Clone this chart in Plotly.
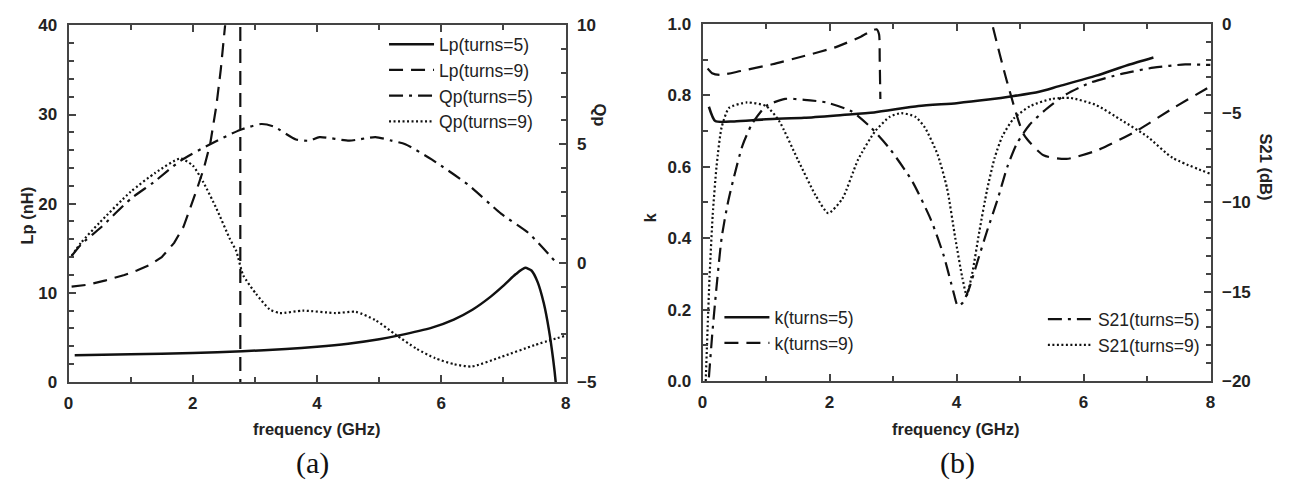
import plotly.graph_objects as go

# ---------------- data: panel (a) ----------------
lp5_f = [0.1, 1.0, 2.0, 2.8, 3.5, 4.0, 4.5, 5.0, 5.3, 5.85, 6.2, 6.5, 6.8, 7.0, 7.2, 7.35, 7.45, 7.55, 7.65, 7.73, 7.8, 7.84, 7.86]
lp5_v = [3.0, 3.1, 3.25, 3.45, 3.7, 3.95, 4.3, 4.8, 5.2, 6.1, 7.0, 8.1, 9.6, 10.8, 12.1, 12.8, 12.5, 11.2, 8.8, 5.9, 2.5, 0.0, -2.0]

lp9_f = [0.05, 0.3, 0.6, 0.9, 1.1, 1.3, 1.5, 1.7, 1.85, 1.95, 2.07, 2.18, 2.28, 2.38, 2.45, 2.52, 2.6, 2.68, 2.72, 2.76, 2.77, 2.8]
lp9_v = [10.7, 10.9, 11.4, 12.0, 12.5, 13.1, 14.0, 15.6, 17.4, 19.3, 21.7, 24.0, 26.7, 31.0, 35.0, 40.0, 55.0, 100.0, 200.0, 1000.0, -1000.0, -800.0]

qp5_f = [0.05, 0.2, 0.52, 1.0, 1.37, 1.8, 2.28, 2.76, 3.1, 3.3, 3.66, 3.88, 4.04, 4.52, 4.94, 5.2, 5.42, 5.85, 6.43, 6.96, 7.4, 7.77, 7.87]
qp5_v = [0.3, 0.78, 1.5, 2.7, 3.4, 4.3, 5.0, 5.6, 5.85, 5.75, 5.2, 5.15, 5.3, 5.15, 5.3, 5.15, 5.0, 4.35, 3.3, 2.08, 1.27, 0.25, -0.05]

qp9_f = [0.05, 0.2, 0.5, 1.0, 1.4, 1.8, 2.0, 2.17, 2.38, 2.6, 2.7, 2.81, 3.02, 3.24, 3.4, 3.77, 4.3, 4.62, 4.94, 5.26, 5.6, 5.9, 6.2, 6.49, 6.96, 7.5, 8.0]
qp9_v = [0.3, 0.85, 1.7, 3.0, 3.8, 4.4, 4.1, 3.4, 2.3, 1.0, 0.5, -0.5, -1.3, -1.95, -2.1, -2.0, -2.1, -2.05, -2.4, -3.0, -3.6, -4.0, -4.25, -4.35, -3.95, -3.45, -3.05]

# ---------------- data: panel (b) ----------------
k5_f = [0.1, 0.2, 0.5, 1.0, 1.6, 2.2, 2.7, 3.4, 4.0, 4.5, 4.9, 5.3, 5.6, 6.2, 6.7, 7.1]
k5_v = [0.768, 0.728, 0.727, 0.733, 0.737, 0.745, 0.752, 0.77, 0.778, 0.788, 0.798, 0.81, 0.825, 0.855, 0.885, 0.906]

k9_f = [0.08, 0.15, 0.27, 0.6, 1.1, 1.6, 2.1, 2.5, 2.68, 2.74, 2.78, 2.79, 2.8, None, 4.5, 4.56, 4.8, 5.06, 5.37, 5.73, 6.2, 6.83, 7.4, 7.92, 8.0]
k9_v = [0.875, 0.862, 0.857, 0.868, 0.887, 0.91, 0.935, 0.965, 0.982, 0.985, 0.97, 0.9, 0.79, None, 1.05, 1.0, 0.835, 0.69, 0.632, 0.622, 0.645, 0.70, 0.763, 0.817, 0.825]

s5_f = [0.1, 0.15, 0.2, 0.3, 0.4, 0.5, 0.63, 0.78, 1.0, 1.3, 1.6, 1.95, 2.35, 2.65, 2.95, 3.3, 3.6, 3.8, 3.95, 4.02, 4.1, 4.2, 4.33, 4.48, 4.64, 4.8, 4.95, 5.15, 5.37, 5.7, 6.1, 6.6, 7.1, 7.6, 8.0]
s5_v = [-19.8, -17.5, -15.5, -12.0, -10.0, -8.5, -6.8, -5.6, -4.6, -4.2, -4.25, -4.4, -4.9, -5.8, -7.0, -8.8, -11.0, -13.0, -15.0, -15.8, -15.6, -14.8, -13.3, -11.6, -9.9, -8.0, -6.7, -5.65, -4.9, -4.0, -3.3, -2.8, -2.45, -2.27, -2.3]

s9_f = [0.05, 0.08, 0.11, 0.16, 0.22, 0.3, 0.42, 0.7, 1.0, 1.2, 1.5, 1.78, 1.98, 2.2, 2.45, 2.72, 2.95, 3.13, 3.35, 3.5, 3.7, 3.85, 3.98, 4.09, 4.16, 4.25, 4.36, 4.48, 4.6, 4.72, 4.9, 5.16, 5.5, 5.8, 6.2, 6.6, 7.0, 7.4, 8.0]
s9_v = [-20.0, -17.0, -14.2, -10.7, -8.0, -5.8, -4.7, -4.4, -4.6, -5.4, -7.6, -9.6, -10.6, -9.8, -7.6, -6.0, -5.2, -5.0, -5.2, -5.8, -7.3, -9.2, -12.0, -14.2, -15.2, -13.9, -11.6, -9.3, -7.5, -6.3, -5.3, -4.6, -4.2, -4.15, -4.55, -5.4, -6.3, -7.5, -8.4]

x_ticks = [0, 2, 4, 6, 8]

# ---------------- styles ----------------
BLK = "#111111"
AX = "#444444"
SANS = "Liberation Sans"
DASH = "14px,8px"
DASHDOT = "14px,6px,3px,6px"
DOT = "2px,2.5px"

fig = go.Figure()

def add(x, y, name, dash, xa, ya, legend, width=2.2, shape="spline"):
    line = dict(color=BLK, width=width, dash=dash, shape=shape)
    if shape == "spline":
        line["smoothing"] = 0.6
    fig.add_trace(go.Scatter(x=x, y=y, name=name, mode="lines", xaxis=xa, yaxis=ya,
                             legend=legend, connectgaps=False, line=line))

add(lp5_f, lp5_v, "Lp(turns=5)", "solid", "x", "y", "legend", 2.5)
add(lp9_f, lp9_v, "Lp(turns=9)", DASH, "x", "y", "legend", 2.2, "linear")
add(qp5_f, qp5_v, "Qp(turns=5)", DASHDOT, "x", "y2", "legend")
add(qp9_f, qp9_v, "Qp(turns=9)", DOT, "x", "y2", "legend")

add(k5_f, k5_v, "k(turns=5)", "solid", "x2", "y3", "legend2", 2.5)
add(k9_f, k9_v, "k(turns=9)", DASH, "x2", "y3", "legend2")
add(s5_f, s5_v, "S21(turns=5)", DASHDOT, "x2", "y4", "legend3")
add(s9_f, s9_v, "S21(turns=9)", DOT, "x2", "y4", "legend3")

tickfont = dict(family=SANS, size=17, color="#222222", weight="bold")

def xax(domain, anchor):
    return dict(domain=domain, anchor=anchor, range=[0, 8], tickvals=x_ticks,
                ticks="inside", ticklen=7, tickwidth=1.5, tickcolor=AX,
                showline=True, linecolor=AX, linewidth=2, mirror="ticks",
                showgrid=False, zeroline=False, tickfont=tickfont, ticklabelstandoff=5,
                minor=dict(dtick=1, ticks="inside", ticklen=5, tickwidth=1.5, tickcolor=AX, showgrid=False))

def yax(domain, anchor, rng, dtick, mdtick, side="left", overlaying=None):
    d = dict(domain=domain, anchor=anchor, range=rng, dtick=dtick, side=side,
             ticks="inside", ticklen=7, tickwidth=1.5, tickcolor=AX,
             showline=True, linecolor=AX, linewidth=2,
             showgrid=False, zeroline=False, tickfont=tickfont, ticklabelstandoff=6,
             minor=dict(dtick=mdtick, ticks="inside", ticklen=5, tickwidth=1.5, tickcolor=AX, showgrid=False))
    if overlaying:
        d["overlaying"] = overlaying
    return d

ydomA = [1 - 388 / 491, 1 - 17 / 491]
ydomB = [1 - 387 / 491, 1 - 15.5 / 491]

legfont = dict(family=SANS, size=17.5, color="#222222")

fig.update_layout(
    width=1289, height=491,
    margin=dict(l=0, r=0, t=0, b=0),
    paper_bgcolor="white", plot_bgcolor="white",
    xaxis=xax([64 / 1289, 565 / 1289], "y"),
    yaxis=yax(ydomA, "x", [0, 40], 10, 2, "left"),
    yaxis2=yax(ydomA, "x", [-5, 10], 5, 1, "right", "y"),
    xaxis2=xax([703 / 1289, 1215 / 1289], "y3"),
    yaxis3=yax(ydomB, "x2", [0, 1.0], 0.2, 0.1, "left"),
    yaxis4=yax(ydomB, "x2", [-20, 0], 5, 1, "right", "y3"),
    legend=dict(x=382 / 1289, y=1 - 18 / 491, xanchor="left", yanchor="top",
                bgcolor="rgba(0,0,0,0)", font=legfont, itemwidth=45, tracegroupgap=0),
    legend2=dict(x=720 / 1289, y=1 - 302 / 491, xanchor="left", yanchor="top",
                 bgcolor="rgba(0,0,0,0)", font=legfont, itemwidth=45),
    legend3=dict(x=1046 / 1289, y=1 - 304 / 491, xanchor="left", yanchor="top",
                 bgcolor="rgba(0,0,0,0)", font=legfont, itemwidth=45),
    showlegend=True,
)
fig.update_layout(yaxis3_tickformat=".1f")

titlefont = dict(family=SANS, size=16.5, color="#222222", weight="bold")
serif = dict(family="Liberation Serif", size=30, color="#111111")

def ann(text, x, y, font, angle=0):
    fig.add_annotation(text=text, x=x / 1289, y=1 - y / 491, xref="paper", yref="paper",
                       showarrow=False, textangle=angle, font=font, xanchor="center", yanchor="middle")

ann("Lp (nH)", 22, 215, titlefont, -90)
ann("Qp", 600, 110, titlefont, 90)
ann("frequency (GHz)", 314, 437, titlefont)
ann("(a)", 310, 472, serif)
ann("k", 650, 217, titlefont, -90)
ann("S21 (dB)", 1271, 164, titlefont, 90)
ann("frequency (GHz)", 958, 437, titlefont)
ann("(b)", 960, 472, serif)

fig.write_html("out.html")
